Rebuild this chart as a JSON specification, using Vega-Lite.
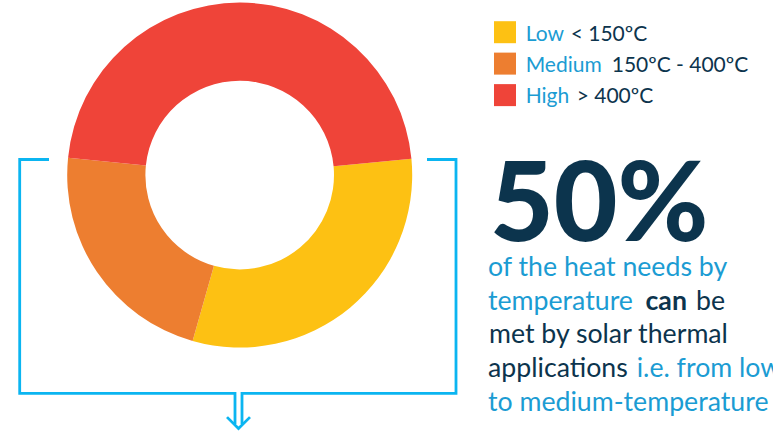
{
  "$schema": "https://vega.github.io/schema/vega-lite/v6.json",
  "width": 773,
  "height": 435,
  "autosize": {"type": "fit", "contains": "padding"},
  "padding": 0,
  "config": {"view": {"stroke": null}, "font": "Lato"},
  "datasets": {
    "shares": [
      {"category": "Low", "share": 30.9, "rank": 1},
      {"category": "Medium", "share": 22.2, "rank": 2},
      {"category": "High", "share": 46.9, "rank": 3}
    ],
    "legend": [
      {"category": "Low", "detail": "< 150ºC", "ly": 32.5, "dx": 570.7},
      {"category": "Medium", "detail": "150ºC - 400ºC", "ly": 64.2, "dx": 611.7},
      {"category": "High", "detail": "> 400ºC", "ly": 96, "dx": 576.7}
    ],
    "paths": [
      {"path": "left", "seq": 1, "px": 49, "py": 161},
      {"path": "left", "seq": 2, "px": 19.7, "py": 161},
      {"path": "left", "seq": 3, "px": 19.7, "py": 397},
      {"path": "left", "seq": 4, "px": 235, "py": 397},
      {"path": "left", "seq": 5, "px": 235, "py": 428},
      {"path": "right", "seq": 1, "px": 427, "py": 161},
      {"path": "right", "seq": 2, "px": 456, "py": 161},
      {"path": "right", "seq": 3, "px": 456, "py": 397},
      {"path": "right", "seq": 4, "px": 242, "py": 397},
      {"path": "right", "seq": 5, "px": 242, "py": 428},
      {"path": "head", "seq": 1, "px": 227, "py": 421},
      {"path": "head", "seq": 2, "px": 238.5, "py": 432.5},
      {"path": "head", "seq": 3, "px": 250, "py": 421}
    ],
    "words": [
      {"text": "of the heat needs by", "px": 488, "py": 278.5, "tone": "accent", "bold": false},
      {"text": "temperature", "px": 488, "py": 312.5, "tone": "accent", "bold": false},
      {"text": "can", "px": 645.5, "py": 312.5, "tone": "body", "bold": true},
      {"text": "be", "px": 696, "py": 312.5, "tone": "body", "bold": false},
      {"text": "met by solar thermal", "px": 489, "py": 346.5, "tone": "body", "bold": false},
      {"text": "applications", "px": 488, "py": 381, "tone": "body", "bold": false},
      {"text": "i.e. from low", "px": 636.7, "py": 381, "tone": "accent", "bold": false},
      {"text": "to medium-temperature", "px": 488, "py": 415, "tone": "accent", "bold": false}
    ]
  },
  "layer": [
    {
      "data": {"name": "paths"},
      "mark": {"type": "line", "stroke": "#0BB5F1", "strokeWidth": 2.8, "strokeJoin": "miter"},
      "encoding": {
        "x": {"field": "px", "type": "quantitative", "scale": {"domain": [0, 773], "nice": false, "zero": false}, "axis": null},
        "y": {"field": "py", "type": "quantitative", "scale": {"domain": [0, 435], "nice": false, "zero": false, "reverse": true}, "axis": null},
        "detail": {"field": "path"},
        "order": {"field": "seq"}
      }
    },
    {
      "data": {"name": "shares"},
      "mark": {"type": "arc", "outerRadius": 172.5, "innerRadius": 94.3},
      "encoding": {
        "x": {"datum": 239.7, "type": "quantitative"},
        "y": {"datum": 176.7, "type": "quantitative"},
        "theta": {"field": "share", "type": "quantitative", "stack": true, "scale": {"range": [1.4766, 7.7598]}},
        "order": {"field": "rank"},
        "color": {"field": "category", "type": "nominal", "scale": {"domain": ["Low", "Medium", "High"], "range": ["#FDC113", "#ED7E30", "#EF4439"]}, "legend": null}
      }
    },
    {
      "data": {"name": "legend"},
      "mark": {"type": "square", "size": 484, "opacity": 1},
      "encoding": {
        "x": {"datum": 505, "type": "quantitative"},
        "y": {"field": "ly", "type": "quantitative"},
        "color": {"field": "category", "type": "nominal", "legend": null}
      }
    },
    {
      "data": {"name": "legend"},
      "mark": {"type": "text", "align": "left", "baseline": "alphabetic", "dy": 8.3, "fontSize": 21, "color": "#1B9CD3"},
      "encoding": {
        "x": {"datum": 525.7, "type": "quantitative"},
        "y": {"field": "ly", "type": "quantitative"},
        "text": {"field": "category"}
      }
    },
    {
      "data": {"name": "legend"},
      "mark": {"type": "text", "align": "left", "baseline": "alphabetic", "dy": 8.3, "fontSize": 21, "color": "#0C344D"},
      "encoding": {
        "x": {"field": "dx", "type": "quantitative"},
        "y": {"field": "ly", "type": "quantitative"},
        "text": {"field": "detail"}
      }
    },
    {
      "data": {"values": [{"text": "50%", "px": 490, "py": 243}]},
      "mark": {"type": "text", "align": "left", "baseline": "alphabetic", "fontSize": 110, "fontWeight": 900, "color": "#0C344D"},
      "encoding": {
        "x": {"field": "px", "type": "quantitative"},
        "y": {"field": "py", "type": "quantitative"},
        "text": {"field": "text"}
      }
    },
    {
      "data": {"name": "words"},
      "transform": [{"filter": "datum.tone === 'accent'"}],
      "mark": {"type": "text", "align": "left", "baseline": "alphabetic", "fontSize": 26.7, "color": "#1B9CD3", "clip": true},
      "encoding": {
        "x": {"field": "px", "type": "quantitative"},
        "y": {"field": "py", "type": "quantitative"},
        "text": {"field": "text"}
      }
    },
    {
      "data": {"name": "words"},
      "transform": [{"filter": "datum.tone === 'body' && !datum.bold"}],
      "mark": {"type": "text", "align": "left", "baseline": "alphabetic", "fontSize": 26.7, "color": "#0C344D", "clip": true},
      "encoding": {
        "x": {"field": "px", "type": "quantitative"},
        "y": {"field": "py", "type": "quantitative"},
        "text": {"field": "text"}
      }
    },
    {
      "data": {"name": "words"},
      "transform": [{"filter": "datum.bold"}],
      "mark": {"type": "text", "align": "left", "baseline": "alphabetic", "fontSize": 26.7, "fontWeight": "bold", "color": "#0C344D", "clip": true},
      "encoding": {
        "x": {"field": "px", "type": "quantitative"},
        "y": {"field": "py", "type": "quantitative"},
        "text": {"field": "text"}
      }
    }
  ]
}
